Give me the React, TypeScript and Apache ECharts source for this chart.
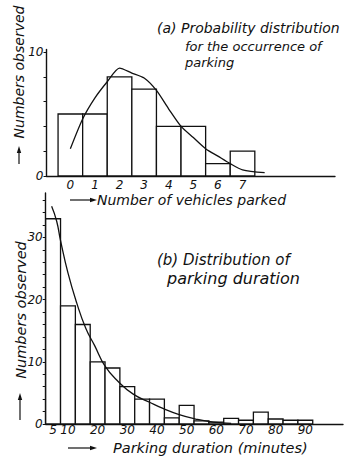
import React, { useEffect, useRef } from "react";
import * as echarts from "echarts";

// (a) vehicles parked
const vehiclesParked = [0, 1, 2, 3, 4, 5, 6, 7];
const vehiclesObserved = [5, 5, 8, 7, 4, 4, 1, 2];
const curveAX = [0, 0.5, 1, 1.5, 2, 2.5, 3, 3.5, 4, 4.5, 5, 5.5, 6, 6.5, 7, 7.9];
const curveAY = [2.2, 4.6, 6.3, 7.6, 8.7, 8.3, 7.9, 6.9, 5.4, 4.0, 3.1, 2.2, 1.6, 1.0, 0.5, 0.27];
const xLabelsA = [0, 1, 2, 3, 4, 5, 6, 7];
const yTicksA = [0, 2, 4, 6, 8, 10];
const yLabelsA = [0, 10];

// (b) parking duration (bin centres, minutes)
const durationBins = [5, 10, 15, 20, 25, 30, 35, 40, 45, 50, 55, 60, 65, 70, 75, 80, 85, 90];
const durationObserved = [33, 19, 16, 10, 9, 6, 4, 4, 1, 3, 0.5, 0.3, 0.9, 0.6, 1.9, 0.8, 0.6, 0.6];
const curveBX = [4.5, 6.2, 7.5, 10, 13, 16, 19, 22.5, 27, 32, 37.5, 42, 47.5, 53, 59, 65];
const curveBY = [35, 32.6, 29.5, 24.3, 19.4, 15.4, 12.6, 9.3, 6.8, 4.8, 3.5, 2.5, 1.5, 0.8, 0.3, 0.1];
const xLabelsB = [5, 10, 20, 30, 40, 50, 60, 70, 80, 90];
const yTicksB = [0, 2, 4, 6, 8, 10, 12, 14, 16, 18, 20, 22, 24, 26, 28, 30, 32, 34, 36];
const yLabelsB = [0, 10, 20, 30];

const INK = "#111";
const FONT = "DejaVu Sans";

function histItem(width: number) {
  return (params: any, api: any) => {
    const c = api.value(0);
    const v = api.value(1);
    const p1 = api.coord([c - width / 2, v]);
    const p2 = api.coord([c + width / 2, 0]);
    return {
      type: "rect",
      shape: { x: p1[0], y: p1[1], width: p2[0] - p1[0], height: p2[1] - p1[1] },
      style: { fill: "#fff", stroke: INK, lineWidth: 1.3 },
    };
  };
}

function arrowH(x1: number, x2: number, y: number) {
  return [
    { type: "line", shape: { x1, y1: y, x2: x2 - 5, y2: y }, style: { stroke: INK, lineWidth: 1.2 } },
    { type: "polygon", shape: { points: [[x2, y], [x2 - 7, y - 2.2], [x2 - 7, y + 2.2]] }, style: { fill: INK } },
  ];
}
function arrowV(x: number, y1: number, y2: number) {
  return [
    { type: "line", shape: { x1: x, y1, x2: x, y2: y2 + 5 }, style: { stroke: INK, lineWidth: 1.2 } },
    { type: "polygon", shape: { points: [[x, y2], [x - 2.2, y2 + 7], [x + 2.2, y2 + 7]] }, style: { fill: INK } },
  ];
}
function txt(text: string, x: number, y: number, size: number, extra: any = {}) {
  return {
    type: "text",
    x,
    y,
    ...extra,
    style: {
      text,
      fill: INK,
      font: `italic ${size}px "${FONT}"`,
      align: extra.align || "left",
      verticalAlign: "middle",
    },
  };
}

export default function App() {
  const ref = useRef<HTMLDivElement>(null);
  useEffect(() => {
    const chart = echarts.init(ref.current!, undefined, { renderer: "svg" });
    const axisLine = { show: true, onZero: false, lineStyle: { color: INK, width: 1.4 } };
    const labelStyle = { color: INK, fontFamily: FONT, fontStyle: "italic", fontSize: 12 };
    chart.setOption({
      animation: false,
      backgroundColor: "#fff",
      grid: [
        { left: 46.5, right: 11, top: 49.5, bottom: 285 },
        { left: 45.7, right: 3, top: 193, bottom: 37 },
      ],
      xAxis: [
        {
          type: "value", gridIndex: 0, min: -0.97, max: 10.76,
          axisLine, splitLine: { show: false }, axisTick: { show: false },
          axisLabel: { ...labelStyle, customValues: xLabelsA, margin: 3 },
        },
        {
          type: "value", gridIndex: 1, min: 2.5, max: 102.7,
          axisLine, splitLine: { show: false }, axisTick: { show: false },
          axisLabel: { ...labelStyle, customValues: xLabelsB, margin: 0 },
        },
      ],
      yAxis: [
        {
          type: "value", gridIndex: 0, min: 0, max: 10.2,
          axisLine, splitLine: { show: false },
          axisTick: { show: true, customValues: yTicksA, length: 3, lineStyle: { color: INK } },
          axisLabel: { ...labelStyle, customValues: yLabelsA, margin: 3 },
        },
        {
          type: "value", gridIndex: 1, min: 0, max: 37.14,
          axisLine, splitLine: { show: false },
          axisTick: { show: true, customValues: yTicksB, length: 3, lineStyle: { color: INK } },
          axisLabel: { ...labelStyle, customValues: yLabelsB, margin: 3 },
        },
      ],
      series: [
        {
          type: "custom", xAxisIndex: 0, yAxisIndex: 0, z: 2,
          renderItem: histItem(1),
          data: vehiclesParked.map((c, i) => [c, vehiclesObserved[i]]),
        },
        {
          type: "line", xAxisIndex: 0, yAxisIndex: 0, z: 3, smooth: 0.25, showSymbol: false,
          lineStyle: { color: INK, width: 1.3 },
          data: curveAX.map((x, i) => [x, curveAY[i]]),
        },
        {
          type: "custom", xAxisIndex: 1, yAxisIndex: 1, z: 2,
          renderItem: histItem(5),
          data: durationBins.map((c, i) => [c, durationObserved[i]]),
        },
        {
          type: "line", xAxisIndex: 1, yAxisIndex: 1, z: 3, smooth: true, showSymbol: false,
          lineStyle: { color: INK, width: 1.3 },
          data: curveBX.map((x, i) => [x, curveBY[i]]),
        },
      ],
      graphic: [
        txt("(a) Probability distribution", 157, 28, 14),
        txt("for the occurrence of", 185, 46, 13),
        txt("parking", 185, 62, 13),
        txt("Number of vehicles parked", 97, 200, 14),
        ...arrowH(70, 97, 200),
        txt("Numbers observed", 19, 72, 14, { rotation: Math.PI / 2, align: "center" }),
        ...arrowV(19, 164, 146),
        txt("(b) Distribution of", 157, 260, 15),
        txt("parking duration", 167, 278, 16),
        txt("Parking duration (minutes)", 113, 448, 14.5),
        ...arrowH(68, 97, 448),
        txt("Numbers observed", 21, 310, 14.5, { rotation: Math.PI / 2, align: "center" }),
        ...arrowV(20, 420, 393),
      ],
    });
    return () => chart.dispose();
  }, []);
  return <div ref={ref} style={{ position: "fixed", left: 0, top: 0, width: 346, height: 461 }} />;
}
